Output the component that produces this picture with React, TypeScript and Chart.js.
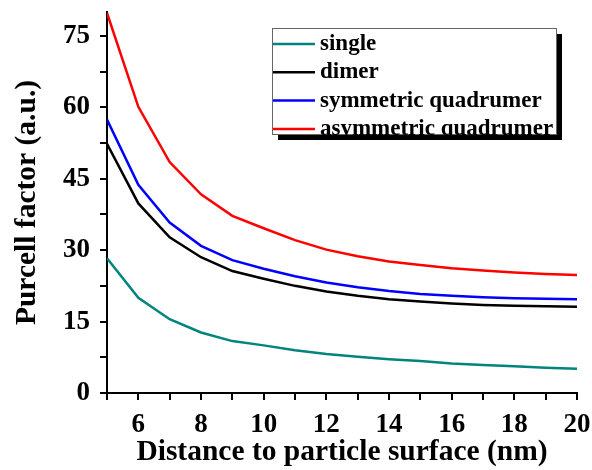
import React, { useEffect, useRef } from "react";
import { Chart, registerables } from "chart.js";

Chart.register(...registerables);

const distances = [5, 6, 7, 8, 9, 10, 11, 12, 13, 14, 15, 16, 17, 18, 19, 20];
const single = [28.3, 20.0, 15.5, 12.7, 10.9, 10.0, 9.0, 8.2, 7.6, 7.1, 6.7, 6.2, 5.9, 5.6, 5.3, 5.1];
const dimer = [52.3, 39.8, 32.7, 28.5, 25.6, 24.0, 22.5, 21.3, 20.4, 19.7, 19.2, 18.8, 18.5, 18.3, 18.2, 18.1];
const symQuad = [57.4, 43.7, 35.8, 30.9, 27.9, 26.1, 24.5, 23.2, 22.2, 21.4, 20.8, 20.4, 20.1, 19.9, 19.8, 19.7];
const asymQuad = [79.8, 60.1, 48.5, 41.7, 37.2, 34.6, 32.1, 30.1, 28.7, 27.6, 26.9, 26.2, 25.7, 25.3, 25.0, 24.8];

const seriesNames = ["single", "dimer", "symmetric quadrumer", "asymmetric quadrumer"];
const seriesColors = ["#00847c", "#000000", "#0000ff", "#ff0000"];
const seriesValues = [single, dimer, symQuad, asymQuad];

const FONT = "'Liberation Serif', 'Times New Roman', serif";

const isMult = (v: number, step: number) => Math.abs(v / step - Math.round(v / step)) < 1e-6;

const boxLegend = {
  id: "boxLegend",
  afterDraw(chart: any) {
    const ctx = chart.ctx;
    const ca = chart.chartArea;
    const x0 = ca.left + 165;
    const y0 = ca.top + 16;
    const w = 284;
    const h = 106;
    ctx.save();
    ctx.fillStyle = "#000";
    ctx.fillRect(x0 + 6, y0 + 6, w, h);
    ctx.fillStyle = "#fff";
    ctx.fillRect(x0, y0, w, h);
    ctx.strokeStyle = "#666";
    ctx.lineWidth = 1;
    ctx.strokeRect(x0 + 0.5, y0 + 0.5, w, h);
    ctx.font = `bold 23px ${FONT}`;
    ctx.textBaseline = "middle";
    ctx.textAlign = "left";
    chart.data.datasets.forEach((ds: any, i: number) => {
      const y = y0 + 16 + i * 28.3;
      ctx.strokeStyle = ds.borderColor;
      ctx.lineWidth = 2.5;
      ctx.beginPath();
      ctx.moveTo(x0 + 1, y);
      ctx.lineTo(x0 + 43, y);
      ctx.stroke();
      ctx.fillStyle = "#000";
      ctx.fillText(ds.label, x0 + 48, y);
    });
    ctx.restore();
  },
};

export default function App() {
  const ref = useRef<HTMLCanvasElement | null>(null);
  useEffect(() => {
    if (!ref.current) return;
    const chart = new Chart(ref.current, {
      type: "line",
      data: {
        datasets: seriesNames.map((name, i) => ({
          label: name,
          data: distances.map((d, j) => ({ x: d, y: seriesValues[i][j] })),
          borderColor: seriesColors[i],
          backgroundColor: seriesColors[i],
          borderWidth: 2.5,
          pointRadius: 0,
          tension: 0,
          fill: false,
        })),
      },
      options: {
        animation: false,
        responsive: false,
        layout: { padding: { top: 12, right: 15, left: 0, bottom: 0 } },
        plugins: { legend: { display: false }, tooltip: { enabled: false } },
        scales: {
          x: {
            type: "linear",
            min: 5,
            max: 20,
            afterFit: (s: any) => { s.height = 77; s.paddingRight = 0; s.paddingLeft = 0; },
            afterBuildTicks: (s: any) => {
              s.ticks = s.ticks.filter((t: any) => isMult(t.value, 1));
            },
            border: { display: true, color: "#000", width: 2 },
            grid: { display: true, drawOnChartArea: false, drawTicks: true, tickLength: 7, tickColor: "#000", lineWidth: 2 },
            ticks: {
              stepSize: 1,
              autoSkip: false,
              maxRotation: 0,
              padding: 9,
              color: "#000",
              font: { family: FONT, size: 27, weight: "bold" },
              callback: (v: any) => (isMult(Number(v), 2) ? String(Math.round(Number(v))) : ""),
            },
            title: {
              display: true,
              text: "Distance to particle surface (nm)",
              color: "#000",
              font: { family: FONT, size: 29.5, weight: "bold" },
              padding: { top: 0, bottom: 0 },
            },
          },
          y: {
            type: "linear",
            min: 0,
            max: 80,
            afterFit: (s: any) => { s.width = 107; s.paddingTop = 0; s.paddingBottom = 0; },
            afterBuildTicks: (s: any) => {
              s.ticks = s.ticks.filter((t: any) => isMult(t.value, 7.5));
            },
            border: { display: true, color: "#000", width: 2 },
            grid: { display: true, drawOnChartArea: false, drawTicks: true, tickLength: 7, tickColor: "#000", lineWidth: 2 },
            ticks: {
              stepSize: 7.5,
              includeBounds: false,
              autoSkip: false,
              padding: 10,
              color: "#000",
              font: { family: FONT, size: 27, weight: "bold" },
              callback: (v: any) => (isMult(Number(v), 15) ? String(Math.round(Number(v))) : ""),
            },
            title: {
              display: true,
              text: "Purcell factor (a.u.)",
              color: "#000",
              font: { family: FONT, size: 29.5, weight: "bold" },
              padding: { top: 10, bottom: 0 },
            },
          },
        },
      },
      plugins: [boxLegend],
    } as any);
    return () => chart.destroy();
  }, []);
  return (
    <div style={{ position: "absolute", left: 0, top: 0, width: 592, height: 470, background: "#fff" }}>
      <canvas ref={ref} width={592} height={470} />
    </div>
  );
}
